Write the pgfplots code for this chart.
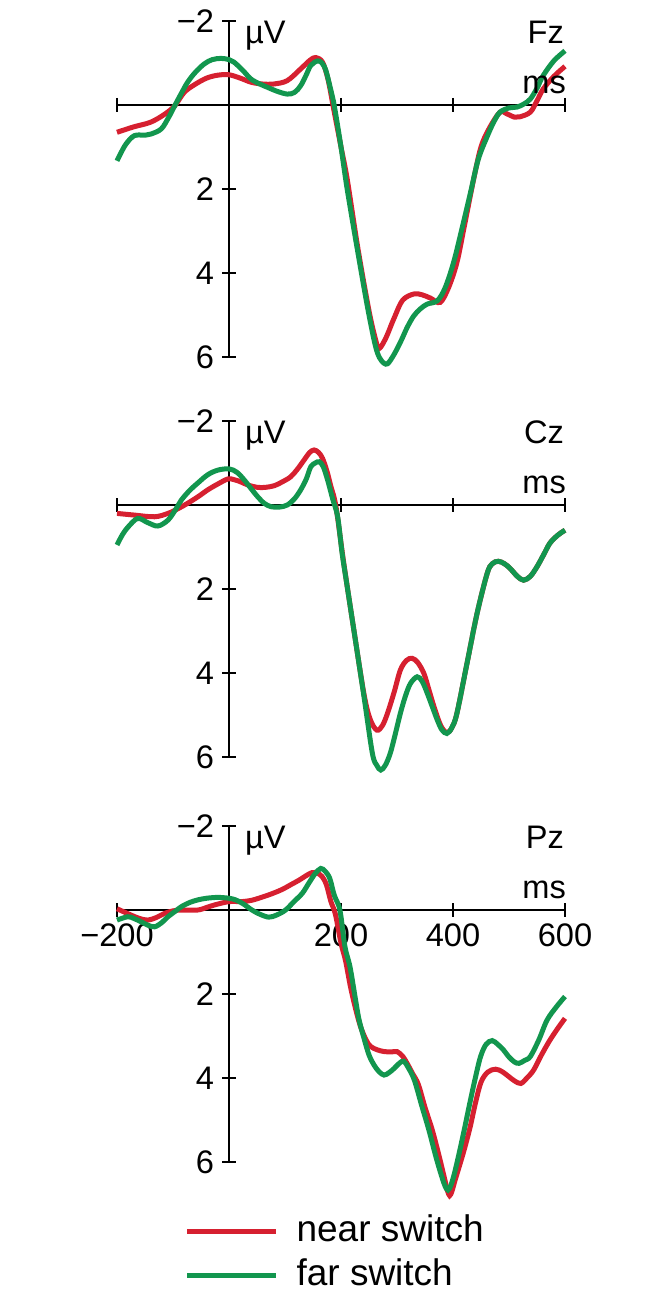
\documentclass[border=0pt]{standalone}
\usepackage{pgfplots}
\pgfplotsset{compat=1.18}
\usepackage{fontspec}
\setmainfont{Liberation Sans}
\definecolor{nearred}{RGB}{214,32,48}
\definecolor{fargreen}{RGB}{18,150,78}
\newcommand{\lab}{\fontsize{16.3}{19}\selectfont}
\pgfplotsset{erp/.style={
  scale only axis, width=224pt, height=168pt,
  xmin=-200, xmax=600, ymin=-2, ymax=6, y dir=reverse,
  axis lines=middle,
  axis line style={-, line width=1.35pt, black},
  every inner x axis line/.append style={-},
  every inner y axis line/.append style={-},
  xtick={-200,200,400,600}, ytick={-2,2,4,6},
  yticklabels={−2,2,4,6},
  tick align=center, major tick length=7pt,
  tick style={line width=1.35pt, black},
  ticklabel style={font=\lab},
  yticklabel style={xshift=-0.5pt},
  clip=false, anchor=north west,
},
nearline/.style={nearred, line width=2.5pt, smooth, tension=0.55},
farline/.style={fargreen, line width=2.5pt, smooth, tension=0.55},
}
\begin{document}
\begin{tikzpicture}
\useasboundingbox (0,0) rectangle (336pt,-650pt);
% ---------------- Fz ----------------
\begin{axis}[erp, at={(58.5pt,-10.5pt)}, xticklabels={}]
\addplot[nearline] coordinates {
(-200,0.65) (-170,0.52) (-140,0.41) (-115,0.22) (-97,0.02) (-80,-0.3) (-62,-0.48)
(-40,-0.64) (-20,-0.71) (0,-0.72) (20,-0.64) (40,-0.54) (60,-0.5) (80,-0.5)
(104,-0.58) (128,-0.86) (145,-1.07) (155,-1.13) (167,-1.02) (177,-0.6) (187,0.1)
(200,1.0) (211,1.76) (230,3.4) (250,4.9) (262,5.6) (268,5.8) (280,5.55) (294,5.1)
(310,4.65) (330,4.5) (345,4.52) (360,4.6) (377,4.7) (392,4.35) (407,3.75) (420,2.9)
(437,1.76) (450,1.0) (465,0.55) (484,0.17) (496,0.21) (510,0.29) (520,0.28)
(538,0.17) (550,-0.1) (561,-0.38) (580,-0.68) (600,-0.92)};
\addplot[farline] coordinates {
(-200,1.33) (-185,0.95) (-169,0.73) (-150,0.72) (-139,0.69) (-121,0.57) (-108,0.3)
(-97,0.02) (-85,-0.28) (-74,-0.54) (-60,-0.78) (-44,-0.98) (-30,-1.08) (-14,-1.11)
(0,-1.08) (9,-1.02) (25,-0.82) (39,-0.62) (55,-0.5) (69,-0.42) (85,-0.33) (104,-0.26)
(117,-0.3) (128,-0.46) (138,-0.72) (146,-0.94) (158,-1.05) (166,-1.0) (173,-0.82)
(181,-0.4) (188,0.02) (200,1.0) (211,2.0) (230,3.5) (250,5.0) (265,5.9) (280,6.17)
(292,6.0) (306,5.65) (318,5.3) (330,5.02) (342,4.85) (354,4.74) (372,4.66) (386,4.35)
(401,3.75) (415,3.0) (431,2.1) (445,1.3) (461,0.75) (473,0.4) (484,0.17) (500,0.07)
(514,0.05) (526,-0.02) (538,-0.14) (550,-0.4) (561,-0.7) (580,-1.05) (600,-1.29)};
\node[anchor=base west, font=\lab, xshift=4.5pt] at (axis cs:0,-1.47) {µV};
\node[anchor=base east, font=\lab, xshift=3pt] at (axis cs:600,-1.47) {Fz};
\node[anchor=base east, font=\lab, xshift=4pt] at (axis cs:600,-0.28) {ms};
\end{axis}
% ---------------- Cz ----------------
\begin{axis}[erp, at={(58.5pt,-210.5pt)}, xticklabels={}]
\addplot[nearline] coordinates {
(-200,0.2) (-169,0.24) (-133,0.28) (-109,0.2) (-90,0.08) (-74,-0.04) (-55,-0.2)
(-38,-0.36) (-20,-0.5) (-2,-0.62) (10,-0.6) (21,-0.55) (35,-0.47) (51,-0.42)
(65,-0.42) (81,-0.46) (95,-0.55) (110,-0.67) (122,-0.85) (134,-1.07) (144,-1.25)
(152,-1.31) (160,-1.25) (167,-1.11) (175,-0.8) (182,-0.44) (191,0.04) (205,1.39)
(223,2.98) (241,4.5) (252,5.1) (264,5.36) (274,5.25) (283,4.96) (295,4.45) (306,3.93)
(317,3.7) (327,3.65) (337,3.75) (348,4.01) (357,4.4) (366,4.8) (378,5.25) (389,5.42)
(398,5.3) (407,4.96) (425,3.77) (443,2.58) (461,1.63) (470,1.4) (481,1.34) (492,1.4)
(502,1.51) (515,1.7) (526,1.79) (538,1.7) (550,1.47) (562,1.18) (573,0.91) (587,0.72)
(600,0.6)};
\addplot[farline] coordinates {
(-200,0.95) (-190,0.7) (-180,0.52) (-163,0.32) (-145,0.42) (-127,0.5) (-109,0.36)
(-95,0.1) (-85,-0.12) (-70,-0.35) (-56,-0.52) (-38,-0.72) (-20,-0.83) (0,-0.86)
(14,-0.78) (27,-0.6) (40,-0.38) (51,-0.2) (63,-0.04) (75,0.04) (90,0.05) (104,0.0)
(117,-0.15) (128,-0.36) (138,-0.62) (146,-0.91) (154,-1.0) (161,-1.03) (168,-0.92)
(176,-0.6) (185,-0.15) (194,0.28) (202,1.15) (210,1.85) (223,2.98) (241,4.56)
(256,5.91) (264,6.2) (271,6.31) (279,6.2) (288,5.91) (297,5.45) (306,4.96) (315,4.55)
(324,4.25) (336,4.09) (345,4.2) (354,4.48) (363,4.8) (372,5.12) (380,5.35) (389,5.44)
(398,5.3) (407,4.96) (425,3.77) (443,2.58) (461,1.63) (470,1.4) (481,1.34) (492,1.4)
(502,1.51) (515,1.7) (526,1.79) (538,1.7) (550,1.47) (562,1.18) (573,0.91) (587,0.72)
(600,0.6)};
\node[anchor=base west, font=\lab, xshift=4.5pt] at (axis cs:0,-1.47) {µV};
\node[anchor=base east, font=\lab, xshift=3pt] at (axis cs:600,-1.47) {Cz};
\node[anchor=base east, font=\lab, xshift=4pt] at (axis cs:600,-0.28) {ms};
\end{axis}
% ---------------- Pz ----------------
\begin{axis}[erp, at={(58.5pt,-413pt)}, xticklabels={−200,200,400,600},
  legend style={at={(0.15,-0.14)}, anchor=north west, draw=none, fill=none,
    inner sep=0pt, row sep=0pt, font=\fontsize{18.5}{22}\selectfont,
    nodes={text height=14pt, text depth=4pt, inner sep=2pt, inner xsep=9pt}},
  legend cell align=left,
  legend image code/.code={\draw[#1, line width=2.5pt] (0pt,0pt) -- (44.5pt,0pt);}]
\addplot[nearline] coordinates {
(-200,-0.03) (-175,0.12) (-160,0.2) (-145,0.24) (-130,0.18) (-115,0.08) (-100,0.02)
(-85,0.0) (-56,0.0) (-40,-0.06) (-26,-0.12) (0,-0.2) (23,-0.2) (40,-0.23) (53,-0.28)
(75,-0.38) (95,-0.49) (110,-0.6) (125,-0.71) (138,-0.82) (148,-0.89) (157,-0.88)
(166,-0.8) (174,-0.6) (182,-0.2) (190,0.1) (200,0.79) (208,1.2) (217,1.83) (226,2.35)
(235,2.78) (245,3.1) (253,3.25) (265,3.33) (277,3.37) (290,3.38) (300,3.37) (310,3.48)
(318,3.65) (328,3.9) (338,4.15) (350,4.7) (363,5.24) (375,5.85) (385,6.4) (390,6.68)
(394,6.8) (398,6.7) (404,6.42) (418,5.8) (430,5.2) (440,4.6) (450,4.1) (462,3.86) (476,3.79) (488,3.85)
(500,3.97) (510,4.07) (521,4.13) (532,4.0) (544,3.81) (558,3.45) (573,3.1) (588,2.8)
(600,2.58)};
\addlegendentry{near switch}
\addplot[farline] coordinates {
(-200,0.24) (-181,0.16) (-170,0.2) (-157,0.28) (-145,0.36) (-133,0.4) (-120,0.3)
(-109,0.16) (-95,0.02) (-85,-0.08) (-70,-0.18) (-56,-0.24) (-40,-0.28) (-20,-0.3)
(0,-0.28) (12,-0.24) (25,-0.15) (41,0.0) (55,0.1) (71,0.17) (85,0.12) (101,0.0)
(116,-0.2) (131,-0.4) (143,-0.65) (154,-0.87) (164,-0.99) (172,-0.92) (180,-0.75)
(188,-0.35) (198,0.0) (207,0.87) (216,1.35) (225,2.06) (232,2.6) (241,3.05) (250,3.45)
(259,3.69) (268,3.85) (277,3.93) (286,3.87) (295,3.77) (304,3.65) (312,3.6) (320,3.75)
(331,4.05) (344,4.65) (357,5.24) (370,5.9) (380,6.35) (386,6.58) (391,6.67) (396,6.56)
(402,6.3) (410,5.85) (420,5.24) (430,4.6) (439,4.05) (449,3.5) (459,3.2) (470,3.11) (480,3.2) (490,3.33)
(500,3.5) (510,3.62) (518,3.65) (528,3.58) (538,3.49) (553,3.1) (568,2.62) (585,2.3)
(600,2.06)};
\addlegendentry{far switch}
\node[anchor=base west, font=\lab, xshift=4.5pt] at (axis cs:0,-1.47) {µV};
\node[anchor=base east, font=\lab, xshift=3pt] at (axis cs:600,-1.47) {Pz};
\node[anchor=base east, font=\lab, xshift=4pt] at (axis cs:600,-0.28) {ms};
\end{axis}
\end{tikzpicture}
\end{document}
